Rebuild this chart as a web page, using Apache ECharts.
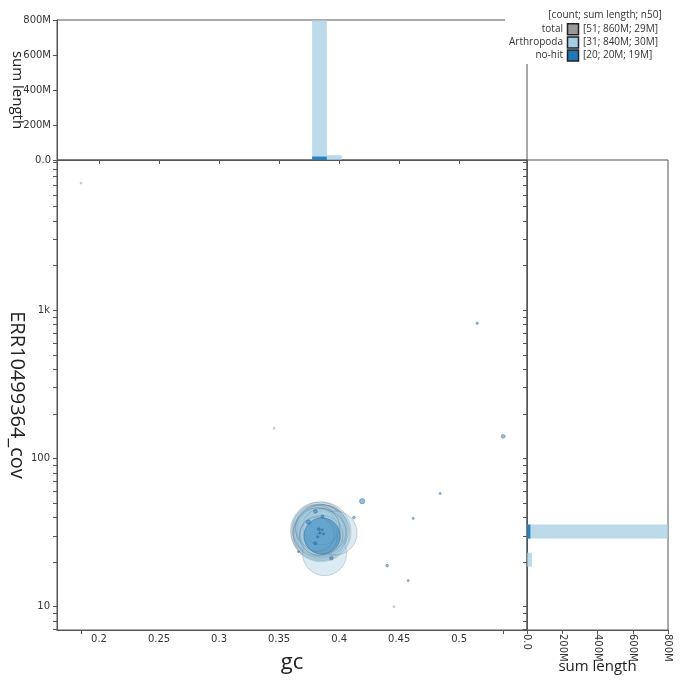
<!DOCTYPE html>
<html><head><meta charset="utf-8">
<script src="https://cdn.jsdelivr.net/npm/echarts@6/dist/echarts.min.js"></script>
<style>html,body{margin:0;padding:0;background:#fff}#c{width:681px;height:687px}</style>
</head><body><div id="c"></div>
<script>
// ---------- data ----------
// Arthropoda contigs: gc, coverage, length (bp)
const arthGc  = [0.3850,0.3835,0.3860,0.3840,0.3825,0.3870,0.3845,0.3830,0.3855,0.3815,0.3865,0.3838,0.3848,0.3808,0.3875,0.3822,0.3858,0.3832,0.3880,0.3812,0.3843,0.3868,0.3827,0.3852,0.3818,0.3879,0.3967,0.3830,0.185,0.3458,0.4458];
const arthCov = [32.0,32.5,31.5,31.0,33.0,32.8,33.5,31.8,30.8,32.2,33.8,30.5,34.2,31.2,31.0,34.0,32.6,33.2,32.0,33.6,30.2,30.4,30.0,34.6,30.8,22.8,31.4,30.5,7210,160,10];
const arthLen = [52e6,48e6,44e6,42e6,38e6,36e6,35e6,34e6,33e6,32e6,32e6,31e6,30e6,30e6,29e6,29e6,28e6,27e6,26e6,25e6,24e6,22e6,21e6,19e6,17e6,28e6,28e6,150e3,40e3,45e3,40e3];
// no-hit contigs
const nohitGc  = [0.3858,0.3803,0.3744,0.3861,0.3831,0.3800,0.3936,0.3661,0.4123,0.4192,0.515,0.5367,0.4842,0.4617,0.440,0.4575,0.384,0.386,0.382,0.387];
const nohitCov = [30.0,43.9,37.2,40.7,33.3,26.8,21.2,23.5,39.9,51.5,817,141,58,39.4,18.9,15.0,31.5,33.0,29.5,31.0];
const nohitLen = [19e6,200e3,280e3,120e3,120e3,120e3,180e3,50e3,120e3,400e3,80e3,220e3,70e3,70e3,110e3,70e3,60e3,50e3,40e3,30e3];
// axis ticks / labels
const gcTicks = [0.2,0.25,0.3,0.35,0.4,0.45,0.5];
const covLabelTicks = [10,100,1000];
const covLabelText = ['10','100','1k'];
const sumTicks = [0,200e6,400e6,600e6,800e6];
// legend
const legendHeader = '[count; sum length; n50]';
const legendNames = ['total','Arthropoda','no-hit'];
const legendStats = ['[51; 860M; 29M]','[31; 840M; 30M]','[20; 20M; 19M]'];
const legendColors = ['#999999','#a6cee3','#1f78b4'];

// ---------- scales / styling ----------
const K = 0.00416;              // px radius per sqrt(bp)
const axisColor = '#555';
const X_MIN = 0.165, X_MAX = 0.5565;
const Y_MIN = 6.96, Y_MAX = 10320;
const SUM_MAX = 800e6;
const GC_BIN_ORIGIN = 0.3775, GC_BIN_W = 0.0123;
const COV_BIN_ORIGIN = 1.270, COV_BIN_W = 0.0946;
const tickFont = 'DejaVu Sans';
const titleFont = 'Open Sans';

const minorTicks = [];
[1,10,100,1000].forEach(d => { for (let m = 1; m <= 9; m++) { const v = d*m; if (v >= Y_MIN && v <= Y_MAX) minorTicks.push(v); } });
if (10000 <= Y_MAX) minorTicks.push(10000);

function rows(gc, cov, len) {
  return gc.map((g,i) => [g, cov[i], len[i]]).sort((a,b) => b[2]-a[2]);
}
function gcHist(gc, len) {
  const m = new Map();
  gc.forEach((g,i) => { const b = Math.floor((g-GC_BIN_ORIGIN)/GC_BIN_W); m.set(b, (m.get(b)||0) + len[i]); });
  return [...m].map(([b,s]) => [GC_BIN_ORIGIN+b*GC_BIN_W, GC_BIN_ORIGIN+(b+1)*GC_BIN_W, s]);
}
function covHist(cov, len) {
  const m = new Map();
  cov.forEach((c,i) => { const b = Math.floor((Math.log10(c)-COV_BIN_ORIGIN)/COV_BIN_W); m.set(b, (m.get(b)||0) + len[i]); });
  return [...m].map(([b,s]) => [s, Math.pow(10, COV_BIN_ORIGIN+b*COV_BIN_W), Math.pow(10, COV_BIN_ORIGIN+(b+1)*COV_BIN_W)]);
}
const sumFmt = v => v === 0 ? '0.0' : (v/1e6) + 'M';
const covFmt = v => { for (let i = 0; i < covLabelTicks.length; i++) if (Math.abs(Math.log10(v/covLabelTicks[i])) < 0.01) return covLabelText[i]; return ''; };

const gcAll = arthGc.concat(nohitGc);
const gcExtremeTicks = [Math.min(...gcAll), Math.max(...gcAll)];

function topBar(color) {
  return (p, api) => {
    const a = api.coord([api.value(0), api.value(2)]);
    const b = api.coord([api.value(1), 0]);
    return {type:'rect', shape:{x:a[0], y:a[1], width:b[0]-a[0], height:b[1]-a[1]}, style:{fill:color}};
  };
}
function rightBar(color) {
  return (p, api) => {
    const a = api.coord([0, api.value(2)]);
    const b = api.coord([api.value(0), api.value(1)]);
    return {type:'rect', shape:{x:a[0], y:a[1], width:b[0]-a[0], height:b[1]-a[1]}, style:{fill:color}};
  };
}

const lbl = {color:'#333', fontSize:10, fontFamily:tickFont};
const line = {show:true, lineStyle:{color:axisColor, width:1}};

const legendGraphics = [{type:'rect', shape:{x:505, y:0, width:176, height:64}, style:{fill:'#fff'}, z:100},
  {type:'text', z:101, style:{text:legendHeader, x:605, y:15, align:'center', verticalAlign:'middle', textAlign:'center', textVerticalAlign:'middle', font:'10px "Open Sans"', fill:'#333'}}];
legendNames.forEach((n,i) => {
  const cy = 29.3 + i*13.1;
  legendGraphics.push({type:'text', z:101, style:{text:n, x:563, y:cy, align:'right', verticalAlign:'middle', textAlign:'right', textVerticalAlign:'middle', font:'10px "Open Sans"', fill:'#333'}});
  legendGraphics.push({type:'rect', z:101, shape:{x:567.5, y:cy-5.5, width:11, height:11}, style:{fill:legendColors[i], stroke:'#222', lineWidth:1.5}});
  legendGraphics.push({type:'text', z:101, style:{text:legendStats[i], x:583, y:cy, align:'left', verticalAlign:'middle', textAlign:'left', textVerticalAlign:'middle', font:'10px "Open Sans"', fill:'#333'}});
});

const option = {
  animation: false,
  backgroundColor: '#fff',
  grid: [
    {left:57, top:160, width:470, height:470, show:true, borderColor:axisColor, borderWidth:1, outerBoundsMode:'none', containLabel:false},
    {left:57, top:20, width:470, height:140, show:true, borderColor:axisColor, borderWidth:1, outerBoundsMode:'none', containLabel:false},
    {left:527, top:160, width:141, height:470, show:true, borderColor:axisColor, borderWidth:1, outerBoundsMode:'none', containLabel:false}
  ],
  xAxis: [
    {type:'value', gridIndex:0, min:X_MIN, max:X_MAX, axisLine:line, splitLine:{show:false},
     axisTick:{show:true, customValues:gcExtremeTicks, length:4, lineStyle:{color:axisColor}},
     axisLabel:Object.assign({customValues:gcTicks, margin:4, formatter: v => String(+v.toFixed(2))}, lbl),
     name:'gc', nameLocation:'middle', nameGap:22, nameMoveOverlap:false, nameTextStyle:{fontSize:22, fontFamily:titleFont, color:'#222'}},
    {type:'value', gridIndex:1, min:X_MIN, max:X_MAX, axisLine:line, splitLine:{show:false},
     axisTick:{show:true, customValues:gcTicks, length:4, lineStyle:{color:axisColor}},
     axisLabel:{show:false}},
    {type:'value', gridIndex:2, min:0, max:SUM_MAX, axisLine:line, splitLine:{show:false},
     axisTick:{show:true, customValues:sumTicks, length:4, lineStyle:{color:axisColor}},
     axisLabel:Object.assign({customValues:sumTicks, rotate:-90, margin:4, formatter:sumFmt}, lbl),
     name:'sum length', nameLocation:'middle', nameGap:29, nameMoveOverlap:false, nameTextStyle:{fontSize:15, fontFamily:titleFont, color:'#222'}}
  ],
  yAxis: [
    {type:'log', logBase:10, gridIndex:0, min:Y_MIN, max:Y_MAX, axisLine:line, splitLine:{show:false},
     axisTick:{show:true, customValues:minorTicks, length:4, lineStyle:{color:axisColor}},
     axisLabel:Object.assign({customValues:covLabelTicks, margin:7, formatter:covFmt}, lbl),
     name:'ERR10499364_cov', nameLocation:'middle', nameRotate:-90, nameGap:30, nameMoveOverlap:false, nameTextStyle:{fontSize:20, fontFamily:titleFont, color:'#222'}},
    {type:'value', gridIndex:1, min:0, max:SUM_MAX, axisLine:line, splitLine:{show:false},
     axisTick:{show:true, customValues:sumTicks, length:4, lineStyle:{color:axisColor}},
     axisLabel:Object.assign({customValues:sumTicks, margin:6, formatter:sumFmt}, lbl),
     name:'sum length', nameLocation:'middle', nameRotate:-90, nameGap:32, nameMoveOverlap:false, nameTextStyle:{fontSize:15, fontFamily:titleFont, color:'#222'}},
    {type:'log', logBase:10, gridIndex:2, min:Y_MIN, max:Y_MAX, axisLine:line, splitLine:{show:false},
     axisTick:{show:true, customValues:minorTicks, length:4, lineStyle:{color:axisColor}},
     axisLabel:{show:false}}
  ],
  series: [
    {type:'scatter', name:'Arthropoda', xAxisIndex:0, yAxisIndex:0, data:rows(arthGc, arthCov, arthLen),
     symbolSize: d => Math.max(2, 2*K*Math.sqrt(d[2])), silent:true,
     itemStyle:{color:'rgba(166,206,227,0.5)', borderColor:'rgba(70,80,95,0.28)', borderWidth:1}},
    {type:'scatter', name:'no-hit', xAxisIndex:0, yAxisIndex:0, data:rows(nohitGc, nohitCov, nohitLen),
     symbolSize: d => Math.max(2, 2*K*Math.sqrt(d[2])), silent:true,
     itemStyle:{color:'rgba(31,120,180,0.6)', borderColor:'rgba(20,70,120,0.4)', borderWidth:1}},
    {type:'custom', xAxisIndex:1, yAxisIndex:1, clip:true, silent:true, data:gcHist(arthGc, arthLen), encode:{x:[0,1], y:2}, renderItem:topBar('rgba(166,206,227,0.75)')},
    {type:'custom', xAxisIndex:1, yAxisIndex:1, clip:true, silent:true, data:gcHist(nohitGc, nohitLen), encode:{x:[0,1], y:2}, renderItem:topBar('rgba(31,120,180,0.9)')},
    {type:'custom', xAxisIndex:2, yAxisIndex:2, clip:true, silent:true, data:covHist(arthCov, arthLen), encode:{x:0, y:[1,2]}, renderItem:rightBar('rgba(166,206,227,0.75)')},
    {type:'custom', xAxisIndex:2, yAxisIndex:2, clip:true, silent:true, data:covHist(nohitCov, nohitLen), encode:{x:0, y:[1,2]}, renderItem:rightBar('rgba(31,120,180,0.9)')}
  ],
  graphic: legendGraphics
};
const chart = echarts.init(document.getElementById('c'), null, {renderer:'canvas'});
chart.setOption(option);
</script></body></html>
